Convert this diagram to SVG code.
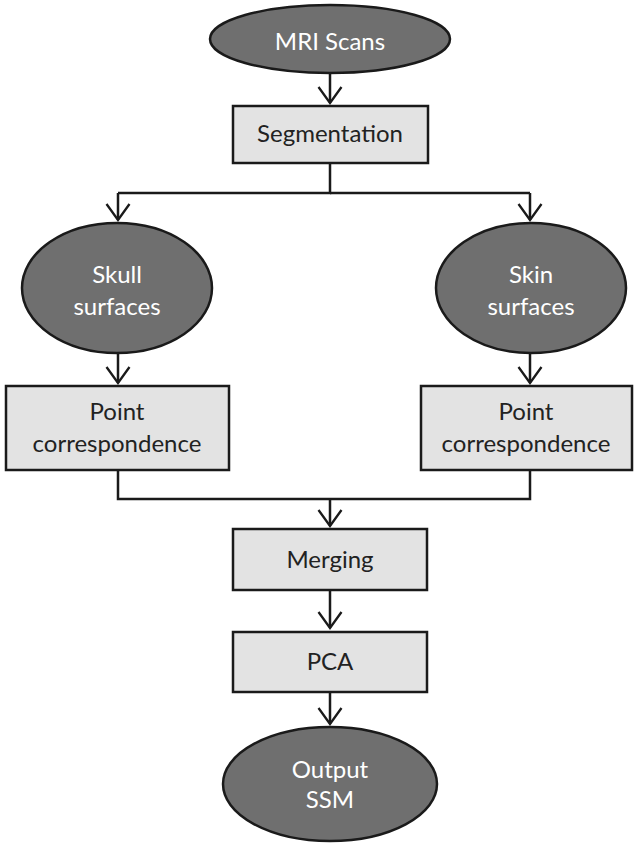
<svg xmlns="http://www.w3.org/2000/svg" width="636" height="843" viewBox="0 0 636 843">
  <defs>
    <marker id="vhead" viewBox="0 0 20 26" refX="18" refY="13" markerWidth="20" markerHeight="26" markerUnits="userSpaceOnUse" orient="auto">
      <polyline points="2,1.5 18,13 2,24.5" fill="none" stroke="#1a1a1a" stroke-width="2.3"/>
    </marker>
    <style>
      .term { fill: #6f6f6f; stroke: #1a1a1a; stroke-width: 2.5; }
      .step { fill: #e3e3e3; stroke: #1a1a1a; stroke-width: 2.5; }
      .lt { fill: #ffffff; font-family: Lato, "Open Sans", "Liberation Sans", sans-serif; font-size: 24px; text-anchor: middle; }
      .dk { fill: #222222; font-family: Lato, "Open Sans", "Liberation Sans", sans-serif; font-size: 24px; text-anchor: middle; }
      .wire { fill: none; stroke: #1a1a1a; stroke-width: 2.5; }
      .arrow { fill: none; stroke: #1a1a1a; stroke-width: 2.5; marker-end: url(#vhead); }
    </style>
  </defs>

  <g id="connectors">
    <line class="arrow" x1="330" y1="73" x2="330" y2="103"/>
    <polyline class="wire" points="330,163 330,193 118,193"/>
    <line class="wire" x1="330" y1="193" x2="530" y2="193"/>
    <line class="arrow" x1="118" y1="193" x2="118" y2="220"/>
    <line class="arrow" x1="530" y1="193" x2="530" y2="220"/>
    <line class="arrow" x1="118" y1="353" x2="118" y2="383"/>
    <line class="arrow" x1="530" y1="353" x2="530" y2="383"/>
    <polyline class="wire" points="118,470 118,499 530,499 530,470"/>
    <line class="arrow" x1="330" y1="499" x2="330" y2="526"/>
    <line class="arrow" x1="330" y1="590" x2="330" y2="628"/>
    <line class="arrow" x1="330" y1="692" x2="330" y2="724"/>
  </g>

  <g id="mri-scans">
    <ellipse class="term" cx="330" cy="39" rx="120" ry="34"/>
    <text class="lt" x="330" y="50">MRI Scans</text>
  </g>

  <g id="segmentation">
    <rect class="step" x="233" y="106" width="195" height="57"/>
    <text class="dk" x="330" y="142">Segmentation</text>
  </g>

  <g id="skull-surfaces">
    <ellipse class="term" cx="117" cy="288" rx="95" ry="65"/>
    <text class="lt" x="117" y="283">Skull</text>
    <text class="lt" x="117" y="315">surfaces</text>
  </g>

  <g id="skin-surfaces">
    <ellipse class="term" cx="531" cy="288" rx="95" ry="65"/>
    <text class="lt" x="531" y="283">Skin</text>
    <text class="lt" x="531" y="315">surfaces</text>
  </g>

  <g id="point-correspondence-left">
    <rect class="step" x="6" y="386" width="223" height="84"/>
    <text class="dk" x="117" y="420">Point</text>
    <text class="dk" x="117" y="452">correspondence</text>
  </g>

  <g id="point-correspondence-right">
    <rect class="step" x="421" y="386" width="211" height="84"/>
    <text class="dk" x="526" y="420">Point</text>
    <text class="dk" x="526" y="452">correspondence</text>
  </g>

  <g id="merging">
    <rect class="step" x="233" y="529" width="194" height="61"/>
    <text class="dk" x="330" y="568">Merging</text>
  </g>

  <g id="pca">
    <rect class="step" x="233" y="632" width="194" height="60"/>
    <text class="dk" x="330" y="670">PCA</text>
  </g>

  <g id="output-ssm">
    <ellipse class="term" cx="330" cy="784" rx="107" ry="57"/>
    <text class="lt" x="330" y="778">Output</text>
    <text class="lt" x="330" y="808">SSM</text>
  </g>
</svg>
